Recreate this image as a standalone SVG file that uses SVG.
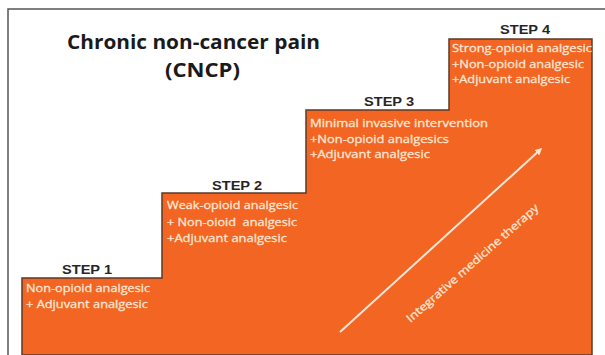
<svg xmlns="http://www.w3.org/2000/svg" width="605" height="355" viewBox="0 0 605 355">
<style>
.title{font-family:"Open Sans","Liberation Sans",sans-serif;font-weight:bold;font-size:20px;fill:#1a1a1a}
.step{font-family:"Liberation Sans",Arial,sans-serif;font-weight:bold;font-size:13px;fill:#262626;text-anchor:middle}
.body{font-family:"Open Sans","Liberation Sans",sans-serif;font-size:11px;fill:#fde6d6;stroke:#fde6d6;stroke-width:0.3;white-space:pre}
.frame{fill:none;stroke:#555;stroke-width:1.5}
</style>
<defs>
<marker id="ah" viewBox="0 0 10 10" refX="8" refY="5" markerWidth="3.5" markerHeight="3.5" orient="auto">
<path d="M0,0 L10,5 L0,10 z" fill="#fde6d6"/>
</marker>
</defs>
<rect width="605" height="355" fill="#fff"/>
<path class="frame" d="M8,355 L8,9 L605,9"/>
<g id="title">
<text class="title" x="67" y="49" textLength="253" lengthAdjust="spacingAndGlyphs">Chronic non-cancer pain</text>
<text class="title" x="165" y="77" textLength="75" lengthAdjust="spacingAndGlyphs">(CNCP)</text>
</g>
<g id="staircase">
<path d="M22,355 L22,278 L162,278 L162,193 L306,193 L306,110 L449,110 L449,39 L592,39 L592,355 Z" fill="#f26522" stroke="#5b3a28" stroke-width="1.5"/>
</g>
<g id="step1">
<text class="step" x="87" y="274" textLength="50" lengthAdjust="spacingAndGlyphs">STEP 1</text>
<text class="body" x="26" y="292" textLength="124" lengthAdjust="spacingAndGlyphs">Non-opioid analgesic</text>
<text class="body" x="26" y="308" textLength="122" lengthAdjust="spacingAndGlyphs">+ Adjuvant analgesic</text>
</g>
<g id="step2">
<text class="step" x="237" y="190" textLength="50" lengthAdjust="spacingAndGlyphs">STEP 2</text>
<text class="body" x="167" y="209" textLength="131" lengthAdjust="spacingAndGlyphs">Weak-opioid analgesic</text>
<text class="body" x="167" y="226" textLength="130" lengthAdjust="spacingAndGlyphs">+ Non-oioid  analgesic</text>
<text class="body" x="167" y="242" textLength="120" lengthAdjust="spacingAndGlyphs">+Adjuvant analgesic</text>
</g>
<g id="step3">
<text class="step" x="389" y="106" textLength="50" lengthAdjust="spacingAndGlyphs">STEP 3</text>
<text class="body" x="310" y="127" textLength="178" lengthAdjust="spacingAndGlyphs">Minimal invasive intervention</text>
<text class="body" x="310" y="142.5" textLength="139" lengthAdjust="spacingAndGlyphs">+Non-opioid analgesics</text>
<text class="body" x="310" y="158" textLength="120" lengthAdjust="spacingAndGlyphs">+Adjuvant analgesic</text>
</g>
<g id="step4">
<text class="step" x="525" y="34" textLength="50" lengthAdjust="spacingAndGlyphs">STEP 4</text>
<text class="body" x="452" y="52" textLength="140" lengthAdjust="spacingAndGlyphs">Strong-opioid analgesic</text>
<text class="body" x="452" y="67.5" textLength="132" lengthAdjust="spacingAndGlyphs">+Non-opioid analgesic</text>
<text class="body" x="452" y="83" textLength="118" lengthAdjust="spacingAndGlyphs">+Adjuvant analgesic</text>
</g>
<g id="connectors">
<line x1="340" y1="332" x2="541" y2="149" stroke="#fde6d6" stroke-width="2" marker-end="url(#ah)"/>
<text class="body" text-anchor="middle" transform="translate(475,266) rotate(-41.5)" textLength="172" lengthAdjust="spacingAndGlyphs">Integrative medicine therapy</text>
</g>
</svg>
